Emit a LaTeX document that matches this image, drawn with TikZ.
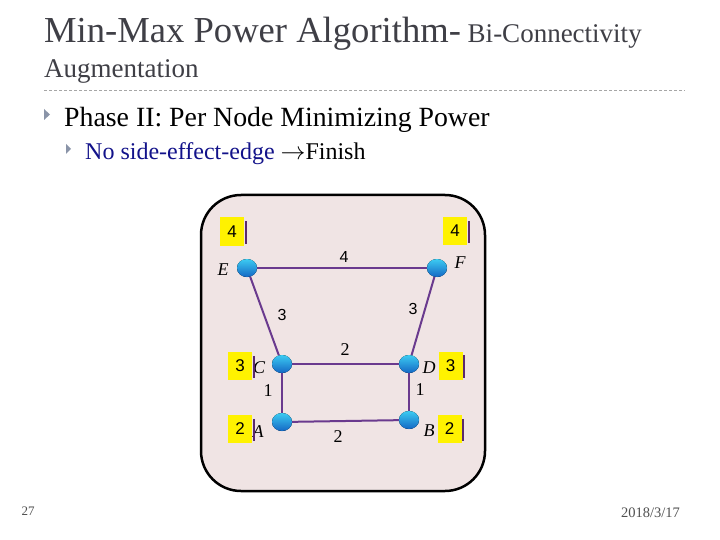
\documentclass[tikz,border=0pt]{standalone}
\usepackage{fontspec}
\setmainfont{Liberation Serif}
\setsansfont{Liberation Sans}
\usetikzlibrary{shapes.geometric}
\definecolor{titlegray}{HTML}{3F3F46}
\definecolor{bulletgray}{HTML}{8A94A8}
\definecolor{navytext}{HTML}{12128A}
\definecolor{panelfill}{HTML}{F0E4E4}
\definecolor{edgepurple}{HTML}{6A3A8E}
\definecolor{barpurple}{HTML}{5A2A6E}
\definecolor{ballhi}{HTML}{3CCBF2}
\definecolor{balllo}{HTML}{1467C4}
\definecolor{footgray}{HTML}{505050}
\begin{document}
\begin{tikzpicture}[x=1pt,y=-1pt,
  ball/.style={ellipse, minimum width=20pt, minimum height=18pt, inner sep=0pt,
    top color=ballhi, bottom color=balllo, draw=none},
  edgeline/.style={draw=edgepurple, line width=2pt},
  wbox/.style={fill=yellow, minimum width=24pt, minimum height=28pt, inner sep=0pt,
    font=\sffamily\fontsize{17}{17}\selectfont},
  nlabel/.style={font=\itshape\fontsize{18}{18}\selectfont, inner sep=0pt},
  slabel/.style={font=\sffamily\fontsize{16}{16}\selectfont, inner sep=0pt},
  rlabel/.style={font=\fontsize{18}{18}\selectfont, inner sep=0pt},
  txt/.style={anchor=base west, inner sep=0pt}]
\useasboundingbox (0,0) rectangle (720,540);
\fill[white] (0,0) rectangle (720,540);

% title
\node[txt, text=titlegray] (title) at (44,43)
  {{\fontsize{36.6}{40}\selectfont Min-Max Power Algorithm-}{\fontsize{27}{30}\selectfont\ Bi-Connectivity}};
\node[txt, text=titlegray] (title2) at (44,78) {\fontsize{27}{30}\selectfont Augmentation};
\draw[gray!70, line width=0.7pt, dash pattern=on 3pt off 2pt] (44,90) -- (685,90);

% bullets
\fill[bulletgray] (44,109) -- (50,114.5) -- (44,120) -- cycle;
\node[txt] (phase) at (64,127) {\fontsize{27.8}{30}\selectfont Phase II: Per Node Minimizing Power};
\fill[bulletgray] (66,144) -- (71,149) -- (66,154) -- cycle;
\node[txt] (sub) at (85,160) {\fontsize{24}{26}\selectfont\textcolor{navytext}{No side-effect-edge} $\rightarrow$Finish};

% panel
\node[draw=black, fill=panelfill, line width=2.5pt, rounded corners=40pt,
  minimum width=284pt, minimum height=296pt, inner sep=0pt] (panel) at (343,343) {};

% nodes
\node[ball] (E) at (247,268) {};
\node[ball] (F) at (437,268) {};
\node[ball] (C) at (282,364) {};
\node[ball] (D) at (409,364) {};
\node[ball] (A) at (282,422) {};
\node[ball] (B) at (409,420) {};

% edges
\draw[edgeline] (E) -- (F);
\draw[edgeline] (E) -- (C);
\draw[edgeline] (F) -- (D);
\draw[edgeline] (C) -- (D);
\draw[edgeline] (C) -- (A);
\draw[edgeline] (D) -- (B);
\draw[edgeline] (A) -- (B);

% redraw balls on top
\foreach \n in {E,F,C,D,A,B}{\fill[top color=ballhi, bottom color=balllo] (\n.center) ellipse (10pt and 9pt);}

% node letters
\node[nlabel] (lE) at (223,270) {E};
\node[nlabel] (lF) at (460,263) {F};
\node[nlabel] (lC) at (259,368) {C};
\node[nlabel] (lD) at (429,368) {D};
\node[nlabel] (lA) at (258,432) {A};
\node[nlabel] (lB) at (429,431) {B};

% edge weights
\node[slabel] (wEF) at (344,257) {4};
\node[slabel] (wEC) at (282,315) {3};
\node[slabel] (wFD) at (413,309) {3};
\node[rlabel] (wCD) at (345,350) {2};
\node[rlabel] (wCA) at (268,391) {1};
\node[rlabel] (wDB) at (420,390) {1};
\node[rlabel] (wAB) at (338,437) {2};

% power boxes
\node[wbox] (pE) at (232,231.5) {4};
\node[wbox] (pF) at (455,231) {4};
\node[wbox] (pC) at (240,366) {3};
\node[wbox] (pD) at (450.5,365.5) {3};
\node[wbox] (pA) at (240,429) {2};
\node[wbox] (pB) at (449.5,429) {2};
\foreach \p in {pE,pF,pC,pD,pA,pB}{
  \draw[barpurple, line width=2pt] ([xshift=1.5pt,yshift=-4pt]\p.north east) -- ([xshift=1.5pt,yshift=2pt]\p.south east);}

% footer
\node[text=footgray, inner sep=0pt, font=\fontsize{13}{14}\selectfont] (pg) at (28,511) {27};
\node[text=footgray, inner sep=0pt, font=\fontsize{14.5}{15}\selectfont] (date) at (650.5,513) {2018/3/17};
\end{tikzpicture}
\end{document}
